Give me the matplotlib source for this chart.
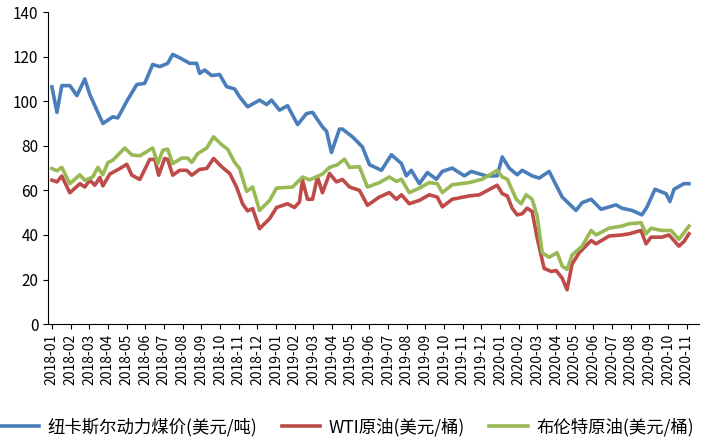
import matplotlib
matplotlib.use("Agg")
import matplotlib.pyplot as plt

plt.rcParams["font.family"] = ["Noto Sans CJK SC", "DejaVu Sans"]

# month labels on the category axis
MONTHS = [f"{y}-{m:02d}" for y in (2018, 2019, 2020) for m in range(1, 13)][:35]

# positions in month units (0 = 2018-01)
COAL_T = [0, .27, .53, .96, 1.34, 1.76, 2.03, 2.73, 3.26, 3.53, 4.01, 4.55, 4.97, 5.4, 5.78, 6.2,
          6.47, 6.84, 7.38, 7.75, 7.91, 8.18, 8.56, 8.98, 9.36, 9.79, 10.05, 10.48, 11.12, 11.5,
          11.76, 12.19, 12.62, 13.16, 13.64, 13.96, 14.49, 14.71, 14.97, 15.4, 15.56, 16.1, 16.63,
          17.01, 17.65, 18.18, 18.72, 18.98, 19.25, 19.68, 20.11, 20.59, 20.91, 21.44, 22.09, 22.46,
          23.26, 23.85, 24.12, 24.49, 24.92, 25.19, 25.72, 26.1, 26.63, 27.33, 28.07, 28.4, 28.88,
          29.41, 30.21, 30.53, 31.07, 31.6, 31.87, 32.3, 32.89, 33.1, 33.32, 33.85, 34.12]
COAL = [106.4, 95, 107, 107, 102.5, 110, 103, 90, 93, 92.5, 100, 107.5, 108, 116.5, 115.5, 117,
        121, 119.5, 117, 117, 112.5, 114, 111.5, 112, 106.5, 105.5, 102, 97.5, 100.5, 98.5,
        100.5, 96, 98, 89.5, 94.5, 95, 88.5, 86.5, 77, 87.5, 87.5, 84, 79.5,
        71.5, 69, 76, 72, 66.5, 69, 63, 68, 65, 68.5, 70, 66.5, 68.5,
        66.5, 66.5, 75, 70, 67, 69, 66.5, 65.5, 68.5, 57, 51, 54.5, 56,
        51.5, 53.5, 52, 51, 49, 52.5, 60.5, 58.5, 55, 60.5, 63, 63]

WTI_T = [0, .27, .53, .96, 1.5, 1.76, 2.03, 2.3, 2.57, 2.73, 3.1, 3.64, 4.01, 4.28, 4.71, 5.24,
         5.51, 5.72, 6.04, 6.2, 6.47, 6.84, 7.22, 7.49, 7.91, 8.29, 8.66, 9.09, 9.52, 9.89, 10.21,
         10.48, 10.75, 11.12, 11.66, 12.03, 12.62, 12.99, 13.26, 13.42, 13.69, 13.96, 14.22, 14.49,
         14.87, 15.24, 15.56, 15.94, 16.47, 16.9, 17.54, 18.07, 18.45, 18.72, 19.14, 19.68, 20.21,
         20.64, 20.91, 21.44, 22.35, 22.89, 23.85, 24.12, 24.39, 24.65, 24.92, 25.19, 25.45, 25.72,
         25.99, 26.36, 26.74, 27.01, 27.33, 27.59, 27.86, 28.24, 28.88, 29.14, 29.84, 30.53, 30.91,
         31.55, 31.82, 32.09, 32.67, 33.05, 33.58, 33.85, 34.12]
WTI = [64.6, 63.8, 66.4, 58.9, 63, 61.5, 64.6, 62.3, 65.8, 62, 67.3, 69.8, 71.7, 66.8, 64.9, 73.9,
       73.9, 66.8, 74.3, 73.9, 66.8, 69, 69, 66.8, 69.4, 69.8, 74.3, 70.6, 67.6, 61.5, 54,
       50.8, 51.8, 42.8, 47.3, 52.3, 54, 52.3, 54.8, 64.6, 56, 56, 66, 58.9,
       67.6, 63.8, 64.9, 61.5, 60, 53.3, 57, 59, 56, 58, 54, 55.5, 58,
       57, 52.6, 56, 57.5, 58, 62.3, 58.5, 57.5, 52, 49, 49.5, 52, 50.5,
       38.6, 25, 23.6, 24, 20.6, 15.4, 27, 32, 37.5, 36, 39.5, 40, 40.5,
       42, 36, 39, 39, 40, 35, 37, 40.5]

BRENT_T = [0, .27, .53, .96, 1.5, 1.76, 2.19, 2.46, 2.73, 3.0, 3.26, 3.9, 4.28, 4.71, 5.4, 5.67,
           5.94, 6.2, 6.47, 6.95, 7.27, 7.49, 7.81, 8.29, 8.66, 9.09, 9.41, 9.79, 10.05, 10.43,
           10.75, 11.12, 11.66, 12.03, 12.89, 13.42, 13.8, 14.49, 14.87, 15.29, 15.67, 15.94, 16.47,
           16.9, 17.54, 18.07, 18.45, 18.72, 19.14, 19.68, 20.21, 20.64, 20.91, 21.44, 22.35, 23.05,
           23.85, 24.12, 24.39, 24.87, 25.13, 25.4, 25.72, 25.99, 26.26, 26.63, 27.06, 27.33, 27.59,
           27.86, 28.4, 28.88, 29.14, 29.84, 30.53, 30.91, 31.55, 31.82, 32.09, 32.67, 33.16, 33.58,
           34.12]
BRENT = [69.8, 68.8, 70.3, 63, 67, 64.5, 66, 70.3, 67, 72.5, 73.5, 79, 75.9, 75.5, 79, 72,
         78, 78.5, 72, 74.5, 74.5, 72.5, 76.5, 79, 84, 80.5, 78.5, 72.5, 69.8, 59.5,
         61.5, 51, 55.5, 61, 61.5, 66, 64.7, 67.3, 70.3, 71.5, 74, 70.3, 70.6,
         61.5, 63.5, 66, 64, 65, 59, 61, 63.5, 63, 59, 62.5, 63.5, 65,
         69, 66, 65, 56, 54, 58, 56, 48.5, 32, 30, 32, 26, 24.5,
         31, 35, 42, 40, 43, 44, 45, 45.5, 40.5, 43, 42, 42, 38,
         44]

SERIES = [
    ("纽卡斯尔动力煤价(美元/吨)", COAL_T, COAL, "#4A7EBB"),
    ("WTI原油(美元/桶)", WTI_T, WTI, "#BE4B48"),
    ("布伦特原油(美元/桶)", BRENT_T, BRENT, "#98B954"),
]

fig = plt.figure(figsize=(7.19, 4.47), dpi=100)
ax = fig.add_axes([0.067, 0.275, 0.905, 0.698])

for label, t, v, color in SERIES:
    assert len(t) == len(v), label
    ax.plot(t, v, color=color, linewidth=2.6, label=label)

ax.set_ylim(0, 140)
ax.set_yticks(range(0, 141, 20))
ax.set_xlim(-0.2, 34.65)
ax.set_xticks(range(len(MONTHS)))
ax.set_xticklabels(MONTHS, rotation=90, fontsize=10)
ax.tick_params(axis="y", labelsize=11)
for s in ("top", "right"):
    ax.spines[s].set_visible(False)

ax.legend(loc="lower center", bbox_to_anchor=(0.46, -0.41), ncol=3, frameon=False,
          fontsize=12.5, handlelength=2.2, columnspacing=1.4, handletextpad=0.5)

fig.savefig("out.png", dpi=100)
